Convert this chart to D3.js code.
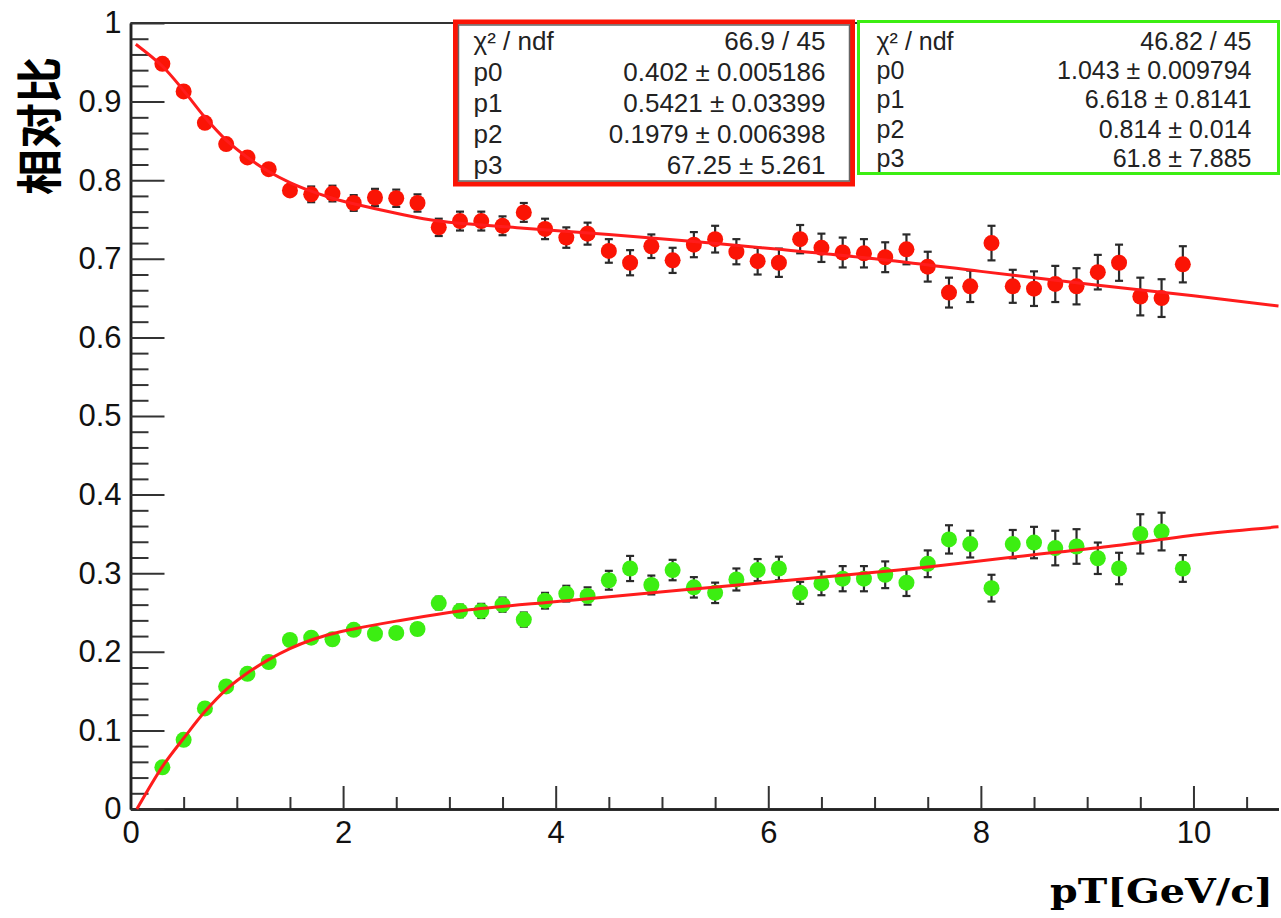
<!DOCTYPE html>
<html>
<head>
<meta charset="utf-8">
<script src="https://cdn.jsdelivr.net/npm/d3@7"></script>
<style>
  body { margin: 0; background: #fff; }
  svg { display: block; }
</style>
</head>
<body>
<div id="chart"></div>
<script>
// bin centres (pT)
const pt = [0.3, 0.5, 0.7, 0.9, 1.1, 1.3, 1.5, 1.7, 1.9, 2.1, 2.3, 2.5, 2.7, 2.9, 3.1, 3.3, 3.5,
  3.7, 3.9, 4.1, 4.3, 4.5, 4.7, 4.9, 5.1, 5.3, 5.5, 5.7, 5.9, 6.1, 6.3, 6.5, 6.7, 6.9, 7.1, 7.3,
  7.5, 7.7, 7.9, 8.1, 8.3, 8.5, 8.7, 8.9, 9.1, 9.3, 9.5, 9.7, 9.9];

const redVals = [0.948, 0.913, 0.873, 0.846, 0.829, 0.814, 0.787,
  0.782, 0.783, 0.771, 0.778, 0.777, 0.771,
  0.740, 0.748, 0.748, 0.742, 0.759, 0.738,
  0.727, 0.732, 0.710, 0.695, 0.716, 0.698,
  0.718, 0.725, 0.709, 0.697, 0.695, 0.725,
  0.714, 0.708, 0.707, 0.702, 0.712, 0.690,
  0.657, 0.665, 0.720, 0.665, 0.662, 0.668,
  0.665, 0.683, 0.695, 0.652, 0.650, 0.693];
const redErr = [0.004, 0.005, 0.005, 0.006, 0.006, 0.006, 0.007,
  0.010, 0.010, 0.010, 0.011, 0.011, 0.011,
  0.011, 0.012, 0.012, 0.012, 0.012, 0.013,
  0.013, 0.014, 0.015, 0.016, 0.015, 0.016,
  0.016, 0.017, 0.016, 0.017, 0.018, 0.018,
  0.018, 0.019, 0.018, 0.019, 0.019, 0.019,
  0.019, 0.020, 0.022, 0.021, 0.022, 0.023,
  0.023, 0.022, 0.023, 0.024, 0.024, 0.023];

const greenVals = [0.053, 0.088, 0.128, 0.156, 0.172, 0.187, 0.215,
  0.218, 0.216, 0.228, 0.223, 0.224, 0.229,
  0.262, 0.252, 0.252, 0.260, 0.241, 0.265,
  0.274, 0.271, 0.291, 0.306, 0.285, 0.304,
  0.282, 0.275, 0.292, 0.304, 0.306, 0.275,
  0.287, 0.293, 0.293, 0.298, 0.288, 0.312,
  0.343, 0.337, 0.281, 0.337, 0.339, 0.332,
  0.334, 0.319, 0.306, 0.350, 0.353, 0.306];
const greenErr = [0.002, 0.003, 0.003, 0.004, 0.004, 0.005, 0.005,
  0.005, 0.006, 0.006, 0.006, 0.007, 0.007,
  0.008, 0.008, 0.009, 0.009, 0.009, 0.010,
  0.010, 0.011, 0.012, 0.016, 0.012, 0.013,
  0.013, 0.013, 0.014, 0.014, 0.015, 0.014,
  0.015, 0.016, 0.016, 0.017, 0.017, 0.017,
  0.018, 0.017, 0.017, 0.018, 0.020, 0.022,
  0.022, 0.020, 0.020, 0.025, 0.024, 0.017];

// fit curves
const redFitX = [0.05, 0.3, 0.5, 0.7, 0.9, 1.1, 1.3, 1.5, 1.7, 1.9, 2.1, 2.5, 2.9, 3.7, 4.5, 5.3, 6.1, 7.0, 8.0, 9.0, 10.0, 10.8];
const redFitY = [0.973, 0.945, 0.914, 0.880, 0.851, 0.829, 0.811, 0.797, 0.786, 0.777, 0.770, 0.758, 0.748, 0.739, 0.731, 0.722, 0.712, 0.700, 0.684, 0.668, 0.653, 0.640];
const greenFitX = [0.06, 0.3, 0.5, 0.7, 0.9, 1.1, 1.3, 1.5, 1.7, 1.9, 2.1, 2.5, 3.1, 4.1, 5.3, 6.6, 7.5, 8.4, 9.2, 10.1, 10.8];
const greenFitY = [0.0, 0.054, 0.090, 0.124, 0.152, 0.173, 0.190, 0.204, 0.215, 0.223, 0.229, 0.239, 0.252, 0.265, 0.280, 0.296, 0.308, 0.322, 0.334, 0.350, 0.359];

const xMajor = [0, 2, 4, 6, 8, 10];
const xMinor = [0.5, 1, 1.5, 2.5, 3, 3.5, 4.5, 5, 5.5, 6.5, 7, 7.5, 8.5, 9, 9.5, 10.5];
const yMajor = [0, 0.1, 0.2, 0.3, 0.4, 0.5, 0.6, 0.7, 0.8, 0.9, 1];
const yMinor = d3.range(0.02, 1, 0.02).filter((v) => Math.abs(v * 10 - Math.round(v * 10)) > 0.01);

const statLabels = ["χ² / ndf", "p0", "p1", "p2", "p3"];
const redStats = ["66.9 / 45", "0.402 ± 0.005186", "0.5421 ± 0.03399", "0.1979 ± 0.006398", "67.25 ± 5.261"];
const greenStats = ["46.82 / 45", "1.043 ± 0.009794", "6.618 ± 0.8141", "0.814 ± 0.014", "61.8 ± 7.885"];

const width = 1281;
const height = 918;
const RED = "#fb1405";
const GREEN = "#3cee12";

const svg = d3.select("#chart").append("svg")
  .attr("width", width)
  .attr("height", height);

const x = d3.scaleLinear().domain([0, 10.8]).range([130.5, 1278.5]);
const y = d3.scaleLinear().domain([0, 1]).range([809, 23]);

// frame top line
svg.append("line")
  .attr("x1", x(0)).attr("x2", x(10.8))
  .attr("y1", y(1)).attr("y2", y(1))
  .attr("stroke", "#333").attr("stroke-width", 2);

const tickFont = "'Liberation Sans', Arial, Helvetica, sans-serif";

function styleAxis(g) {
  g.select(".domain").attr("stroke", "#222").attr("stroke-width", 2.5);
  g.selectAll(".tick line").attr("stroke", "#333").attr("stroke-width", 2);
  g.selectAll(".tick text").attr("fill", "#111").style("font-family", tickFont).style("font-size", "31px");
}

// minor ticks first
svg.append("g")
  .attr("transform", `translate(0,${y(0)})`)
  .call(d3.axisBottom(x).tickValues(xMinor).tickSize(-12).tickSizeOuter(0).tickFormat(""))
  .call(styleAxis);
svg.append("g")
  .attr("transform", `translate(${x(0)},0)`)
  .call(d3.axisLeft(y).tickValues(yMinor).tickSize(-18).tickSizeOuter(0).tickFormat(""))
  .call(styleAxis);

svg.append("g")
  .attr("transform", `translate(0,${y(0)})`)
  .call(d3.axisBottom(x).tickValues(xMajor).tickSize(-23).tickSizeOuter(0).tickPadding(12).tickFormat(d3.format("d")))
  .call(styleAxis);
svg.append("g")
  .attr("transform", `translate(${x(0)},0)`)
  .call(d3.axisLeft(y).tickValues(yMajor).tickSize(-34).tickSizeOuter(0).tickPadding(9).tickFormat((d) => (d === 0 || d === 1 ? d3.format("d")(d) : d3.format(".1f")(d))))
  .call(styleAxis);

// data points with error bars
function drawSeries(vals, errs, color) {
  const pts = pt.map((p, i) => ({ x: p, v: vals[i], e: errs[i] }));
  const g = svg.append("g");
  const eb = g.selectAll("g.err").data(pts).enter().append("g").attr("class", "err")
    .attr("stroke", "#2a2a2a").attr("stroke-width", 2.2);
  eb.append("line")
    .attr("x1", (d) => x(d.x)).attr("x2", (d) => x(d.x))
    .attr("y1", (d) => y(d.v - d.e)).attr("y2", (d) => y(d.v + d.e));
  eb.append("line")
    .attr("x1", (d) => x(d.x) - 4).attr("x2", (d) => x(d.x) + 4)
    .attr("y1", (d) => y(d.v + d.e)).attr("y2", (d) => y(d.v + d.e));
  eb.append("line")
    .attr("x1", (d) => x(d.x) - 4).attr("x2", (d) => x(d.x) + 4)
    .attr("y1", (d) => y(d.v - d.e)).attr("y2", (d) => y(d.v - d.e));
  g.selectAll("circle").data(pts).enter().append("circle")
    .attr("cx", (d) => x(d.x))
    .attr("cy", (d) => y(d.v))
    .attr("r", 8)
    .attr("fill", color);
}
drawSeries(redVals, redErr, RED);
drawSeries(greenVals, greenErr, GREEN);

// fit curves
const fitLine = d3.line()
  .x((d) => x(d[0]))
  .y((d) => y(d[1]))
  .curve(d3.curveCatmullRom.alpha(0.5));
[[redFitX, redFitY], [greenFitX, greenFitY]].forEach(([fx, fy]) => {
  svg.append("path")
    .datum(fx.map((v, i) => [v, fy[i]]))
    .attr("fill", "none")
    .attr("stroke", "#ff1c1c")
    .attr("stroke-width", 3)
    .attr("d", fitLine);
});

// stat boxes
function statBox(x0, y0, w, h, border, bw, values, fontSize, step, inner) {
  const g = svg.append("g");
  g.append("rect")
    .attr("x", x0).attr("y", y0).attr("width", w).attr("height", h)
    .attr("fill", "#fff").attr("stroke", border).attr("stroke-width", bw);
  if (inner) {
    g.append("rect")
      .attr("x", x0 + 3).attr("y", y0 + 3).attr("width", w - 6).attr("height", h - 6)
      .attr("fill", "none").attr("stroke", "#666").attr("stroke-width", 1.5);
  }
  statLabels.forEach((lab, i) => {
    g.append("text")
      .attr("x", x0 + 18).attr("y", 50 + i * step)
      .style("font-family", tickFont).style("font-size", fontSize + "px")
      .attr("fill", "#222")
      .text(lab);
    g.append("text")
      .attr("x", x0 + w - 27).attr("y", 50 + i * step)
      .attr("text-anchor", "end")
      .style("font-family", tickFont).style("font-size", fontSize + "px")
      .attr("fill", "#222")
      .text(values[i]);
  });
}
statBox(455.5, 22, 397, 162, RED, 5, redStats, 26, 31, true);
statBox(858.5, 21.5, 420, 152, GREEN, 3, greenStats, 25, 29.2, false);

// axis titles
svg.append("text")
  .attr("transform", "translate(56,126) rotate(-90)")
  .attr("text-anchor", "middle")
  .style("font-family", "'Noto Sans CJK SC', sans-serif")
  .style("font-weight", "700")
  .style("font-size", "46px")
  .attr("fill", "#000")
  .text("相对比");

svg.append("text")
  .attr("x", 1273).attr("y", 903)
  .attr("text-anchor", "end")
  .attr("textLength", 223)
  .attr("lengthAdjust", "spacingAndGlyphs")
  .style("font-family", "'DejaVu Serif', serif")
  .style("font-weight", "bold")
  .style("font-size", "33px")
  .attr("fill", "#000")
  .text("pT[GeV/c]");
</script>
</body>
</html>
